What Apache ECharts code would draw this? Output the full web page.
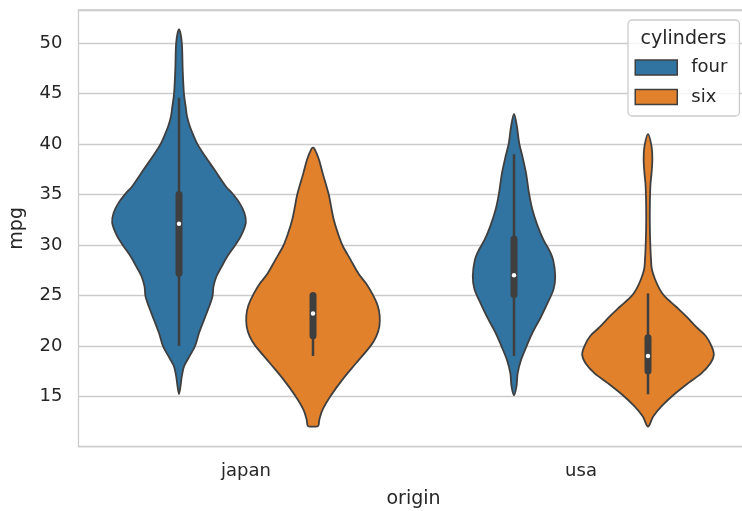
<!DOCTYPE html>
<html><head><meta charset="utf-8">
<script src="https://cdn.jsdelivr.net/npm/echarts@6/dist/echarts.min.js"></script>
<style>html,body{margin:0;padding:0;background:#fff}#c{width:742px;height:511px}</style>
</head><body><div id="c"></div><script>
const origins = ['japan', 'usa'];
const cylinders = ['four', 'six'];
const yTicks = [15, 20, 25, 30, 35, 40, 45, 50];

// violin density profiles: [mpg, half-width in category units]
const japanFour = [
  [51.4, 0], [50.0, 0.0085], [47.4, 0.011], [45.1, 0.0145], [43.7, 0.02], [42.75, 0.024],
  [41.8, 0.032], [40.8, 0.044], [40.0, 0.055], [39.1, 0.072], [37.5, 0.105], [35.8, 0.14],
  [35.2, 0.157], [34.2, 0.18], [33.2, 0.195], [32.2, 0.1995], [30.9, 0.185], [30.0, 0.168],
  [28.9, 0.145], [27.9, 0.128], [26.9, 0.112], [25.9, 0.103], [24.9, 0.1], [23.9, 0.09],
  [22.6, 0.075], [21.3, 0.06], [20.0, 0.048], [19.0, 0.032], [18.0, 0.0155], [17.0, 0.0085],
  [15.2, 0]
];
const japanSix = [
  [39.65, 0], [39.5, 0.005], [38.5, 0.0175], [37.1, 0.029], [35.0, 0.047], [33.8, 0.054],
  [32.5, 0.062], [31.2, 0.074], [29.9, 0.089], [28.55, 0.112], [27.2, 0.135], [26.2, 0.158],
  [25.1, 0.178], [24.0, 0.193], [23.0, 0.199], [21.9, 0.198], [20.95, 0.189], [20.0, 0.172],
  [18.3, 0.129], [16.7, 0.089], [15.1, 0.054], [13.7, 0.029], [12.7, 0.019], [12.05, 0.0155],
  [12.0, 0]
];
const usaFour = [
  [43.0, 0], [41.8, 0.0085], [40.1, 0.0155], [38.8, 0.025], [37.1, 0.036], [35.1, 0.045],
  [33.5, 0.055], [31.85, 0.071], [30.5, 0.088], [29.5, 0.105], [28.5, 0.117], [26.9, 0.123],
  [25.6, 0.118], [24.3, 0.101], [22.9, 0.081], [21.3, 0.055], [20.0, 0.038], [18.6, 0.021],
  [17.3, 0.011], [16.0, 0.0075], [15.1, 0]
];
const usaSix = [
  [41.0, 0], [39.8, 0.0105], [38.5, 0.013], [37.1, 0.0105], [35.8, 0.007], [33.8, 0.0055],
  [31.85, 0.0055], [29.9, 0.007], [28.55, 0.009], [27.6, 0.0115], [26.6, 0.021], [25.6, 0.035],
  [24.9, 0.05], [23.9, 0.083], [22.9, 0.115], [21.9, 0.143], [20.95, 0.173], [19.95, 0.19],
  [19.1, 0.1965], [18.3, 0.187], [17.3, 0.16], [16.3, 0.12], [15.1, 0.075], [14.0, 0.04],
  [13.0, 0.0155], [12.0, 0]
];

// inner box stats: [lower whisker, Q1, median, Q3, upper whisker]
const japanFourBox = [20.0, 27.2, 32.1, 35.0, 44.6];
const japanSixBox = [19.0, 21.0, 23.2, 25.0, 25.0];
const usaFourBox = [19.0, 25.1, 27.0, 30.6, 39.0];
const usaSixBox = [15.2, 17.5, 19.0, 20.8, 25.2];

const profiles = [[japanFour, usaFour], [japanSix, usaSix]];
const boxes = [[japanFourBox, usaFourBox], [japanSixBox, usaSixBox]];

const hueColors = ['#3274a1', '#e1812c'];
const gray = '#3f3f3f';
const textColor = '#262626';
const font = 'DejaVu Sans';
const dodgeWidth = 0.8;

// closed Catmull-Rom outline through the given pixel points, as SVG path data
function smoothClosedPath(pts) {
  const n = pts.length;
  const P = i => pts[(i + n) % n];
  let d = 'M' + pts[0][0].toFixed(2) + ' ' + pts[0][1].toFixed(2);
  for (let i = 0; i < n; i++) {
    const p0 = P(i - 1), p1 = P(i), p2 = P(i + 1), p3 = P(i + 2);
    const c1 = [p1[0] + (p2[0] - p0[0]) / 6, p1[1] + (p2[1] - p0[1]) / 6];
    const c2 = [p2[0] - (p3[0] - p1[0]) / 6, p2[1] - (p3[1] - p1[1]) / 6];
    d += 'C' + c1[0].toFixed(2) + ' ' + c1[1].toFixed(2) + ' ' + c2[0].toFixed(2) + ' ' +
      c2[1].toFixed(2) + ' ' + p2[0].toFixed(2) + ' ' + p2[1].toFixed(2);
  }
  return d + 'Z';
}

function makeRender(h) {
  const offset = -dodgeWidth / 2 + dodgeWidth / cylinders.length * (h + 0.5);
  return function (params, api) {
    const cat = api.value(0);
    const band = api.size([1, 0])[0];
    const cx = api.coord([cat, 30])[0] + offset * band;
    const Y = v => api.coord([cat, v])[1];
    const prof = profiles[h][cat];
    const pts = [];
    prof.forEach(p => pts.push([cx + p[1] * band, Y(p[0])]));
    for (let i = prof.length - 1; i >= 0; i--) {
      const p = prof[i];
      if (p[1] === 0) continue;
      pts.push([cx - p[1] * band, Y(p[0])]);
    }
    const b = boxes[h][cat];
    return {
      type: 'group',
      children: [
        { type: 'path', shape: { pathData: smoothClosedPath(pts) },
          style: { fill: hueColors[h], stroke: gray, lineWidth: 1.8, lineJoin: 'round' } },
        { type: 'line', shape: { x1: cx, y1: Y(b[0]), x2: cx, y2: Y(b[4]) },
          style: { stroke: gray, lineWidth: 2.5 } },
        { type: 'line', shape: { x1: cx, y1: Y(b[1]), x2: cx, y2: Y(b[3]) },
          style: { stroke: gray, lineWidth: 7, lineCap: 'round' } },
        { type: 'circle', shape: { cx: cx, cy: Y(b[2]), r: 2.2 },
          style: { fill: '#ffffff' } }
      ]
    };
  };
}

const chart = echarts.init(document.getElementById('c'), null, { renderer: 'canvas' });
chart.setOption({
  animation: false,
  backgroundColor: '#ffffff',
  textStyle: { fontFamily: font },
  grid: {
    left: 78.5, right: -6.5, top: 10, bottom: 64.3,
    show: true, borderColor: '#cccccc', borderWidth: 1.3,
    outerBoundsMode: 'none', containLabel: false
  },
  xAxis: {
    type: 'category', data: origins, boundaryGap: true,
    axisLine: { show: false }, axisTick: { show: false }, splitLine: { show: false },
    axisLabel: { color: textColor, fontSize: 18, margin: 16, fontFamily: font },
    name: 'origin', nameLocation: 'middle', nameGap: 43,
    nameTextStyle: { color: textColor, fontSize: 19, fontFamily: font }
  },
  yAxis: {
    type: 'value', min: 10, max: 53.3, interval: 5,
    axisLine: { show: false }, axisTick: { show: false },
    splitLine: { lineStyle: { color: '#cccccc', width: 1.3 } },
    axisLabel: {
      color: textColor, fontSize: 18, margin: 16, fontFamily: font,
      showMinLabel: false, showMaxLabel: false,
      formatter: v => (yTicks.indexOf(v) >= 0 ? String(v) : '')
    },
    name: 'mpg', nameLocation: 'middle', nameGap: 52,
    nameTextStyle: { color: textColor, fontSize: 19, fontFamily: font }
  },
  legend: {
    data: cylinders, orient: 'vertical', left: 628, top: 20,
    padding: [38.5, 12, 10, 6.5],
    itemWidth: 42, itemHeight: 15, itemGap: 11.5,
    icon: 'rect',
    itemStyle: { borderColor: gray, borderWidth: 1.5 },
    textStyle: { color: textColor, fontSize: 18, lineHeight: 18, fontFamily: font, padding: [0, 0, 0, 9] },
    backgroundColor: 'rgba(255,255,255,0.8)',
    borderColor: '#cccccc', borderWidth: 1.3, borderRadius: 4
  },
  graphic: [{
    type: 'text', x: 683.5, y: 39.3, z: 100,
    style: { text: 'cylinders', fontSize: 19, fontFamily: font, fill: textColor,
             textAlign: 'center', textVerticalAlign: 'middle' }
  }],
  series: cylinders.map((c, h) => ({
    type: 'custom', name: c,
    itemStyle: { color: hueColors[h] },
    encode: { x: 0, y: 1 },
    data: origins.map((o, i) => [i, boxes[h][i][2]]),
    renderItem: makeRender(h)
  }))
});
</script></body></html>
